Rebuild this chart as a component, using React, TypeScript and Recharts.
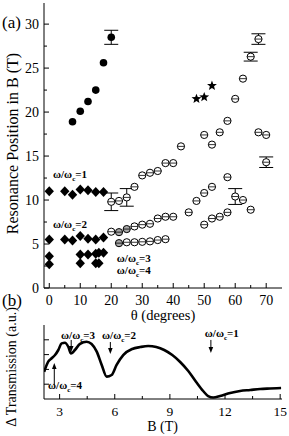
import React from 'react';
import {
  ScatterChart, Scatter, XAxis, YAxis, ErrorBar,
  LineChart, Line, ReferenceLine, ReferenceDot,
} from 'recharts';

const FONT = '"Liberation Serif", "Times New Roman", Times, serif';

// ---------- Panel (a) data: [theta (deg), B (T), error (T)] ----------
const thetaTicks = [0, 5, 10, 15, 20, 25, 30, 35, 40, 45, 50, 55, 60, 65, 70];
const resonanceTicks = [0, 2.5, 5, 7.5, 10, 12.5, 15, 17.5, 20, 22.5, 25, 27.5, 30];

const filledCircles: number[][] = [
  [7.5, 18.9], [10, 20.1], [12.5, 21.2], [15, 22.5], [17.5, 25.6], [20, 28.5, 0.8],
];
const stars: number[][] = [[47.5, 21.5], [50, 21.7], [52.5, 23.0]];
const diamonds: number[][] = [
  [0, 11.0], [5, 11.0], [7.5, 10.6], [10, 11.2], [12.5, 11.1], [15, 10.9], [17.5, 10.9],
  [0, 5.5], [5, 5.5], [7.5, 5.4], [10, 5.9], [12.5, 5.6], [15, 5.5], [17.5, 5.75],
  [0, 3.6], [10, 3.8], [12.5, 3.8], [15, 3.9], [16, 4.0], [17.5, 4.0],
  [0, 2.7], [10, 2.8], [15, 2.8], [16, 2.8],
];
const openCircles: number[][] = [
  [20, 9.8, 1.0], [22.5, 9.9], [25, 10.3, 1.0], [27.5, 11.5], [30, 12.8], [32.5, 13.1],
  [35, 13.3], [37.5, 14.2], [40, 14.2], [42.5, 16.1], [50, 17.4], [52.5, 16.3], [55, 17.7],
  [57.5, 19.0], [60, 21.5], [62.5, 23.8], [65, 26.3, 0.5], [67.5, 28.3, 0.6], [67.5, 17.7],
  [70, 17.4], [70, 14.3, 0.6],
  [45, 8.6], [47.5, 9.9], [50, 10.8], [52.5, 11.5], [57.5, 12.6], [60, 10.4, 0.9],
  [62.5, 10.0], [65, 8.9],
  [50, 7.2], [52.5, 7.9], [55, 8.1], [57.5, 8.6],
  [20, 6.4], [27.5, 7.0], [30, 7.2], [32.5, 7.3], [35, 7.9], [37.5, 8.1], [40, 8.1],
  [25, 5.2], [27.5, 5.2], [30, 5.25], [32.5, 5.3], [35, 5.45], [37.5, 5.55],
];
const greyCircles: number[][] = [[22.5, 6.35], [25, 6.7], [22.5, 5.1]];

// ---------- Panel (b) data: [B (T), transmission (a.u.)] ----------
const fieldTicks = [3, 4.5, 6, 7.5, 9, 10.5, 12, 13.5, 15];
const transTicks = [1, 2, 3, 4];
const transmission: number[][] = [
  [2.16, 1.84], [2.38, 2.52], [2.57, 2.75], [2.75, 2.97], [2.93, 3.31], [3.11, 3.76],
  [3.29, 3.8], [3.47, 3.53], [3.62, 3.07], [3.83, 3.31], [4.11, 3.72], [4.47, 3.87],
  [4.74, 3.72], [5.02, 3.2], [5.29, 2.3], [5.56, 1.51], [5.83, 1.62], [6.1, 2.3],
  [6.46, 2.97], [6.95, 3.38], [7.39, 3.51], [7.82, 3.58], [8.26, 3.51], [8.69, 3.31],
  [9.13, 2.97], [9.56, 2.5], [10.0, 1.89], [10.43, 1.15], [10.81, 0.54], [11.08, 0.2],
  [11.36, 0.1], [11.73, 0.2], [12.28, 0.41], [12.82, 0.54], [13.37, 0.61], [13.91, 0.68],
  [14.45, 0.71], [15.05, 0.74],
];

// annotations
const panelALabels: number[][] = [[1, 1.2, 12.5], [2, 1.2, 6.85], [3, 21.8, 3.0], [4, 21.8, 1.6]];
// [order n, arrow B, arrow y start, arrow y end, label B, label y]
const panelBArrows: number[][] = [
  [4, 2.71, 0.95, 2.43, 2.37, 0.68],
  [3, 3.63, 3.99, 3.18, 3.08, 4.05],
  [2, 5.76, 3.85, 3.04, 5.31, 4.05],
  [1, 11.23, 3.99, 3.1, 10.9, 4.19],
];

const rowsA = (pts: number[][], grey = false) =>
  pts.map(([t, b, e]) => ({ t, b, err: e ?? 0, grey }));
const withErr = (pts: number[][]) => rowsA(pts.filter((p) => p[2] !== undefined));
const rowsB = transmission.map(([B, v]) => ({ B, v }));

// ---------- tick factory ----------
const isMajor = (v: number, step: number) => Math.abs(v / step - Math.round(v / step)) < 1e-6;
const makeTick = (orient: string, step: number, labels: boolean, off = 17, fs = 14) => (props: any) => {
  const { x, y, payload } = props;
  const v = payload.value;
  const major = isMajor(v, step);
  const len = major ? 5 : 3;
  let line;
  let text = null;
  if (orient === 'bottom') {
    line = <line x1={x} x2={x} y1={y} y2={y - len} stroke="#000" />;
    if (labels && major) text = <text x={x} y={y + off} textAnchor="middle" fontFamily={FONT} fontSize={fs} fill="#000">{v}</text>;
  } else if (orient === 'top') {
    line = <line x1={x} x2={x} y1={y} y2={y + len} stroke="#000" />;
  } else if (orient === 'left') {
    line = <line x1={x} x2={x + len} y1={y} y2={y} stroke="#000" />;
    if (labels && major) text = <text x={x - 5} y={y} dy="0.35em" textAnchor="end" fontFamily={FONT} fontSize={fs} fill="#000">{v}</text>;
  } else {
    line = <line x1={x} x2={x - len} y1={y} y2={y} stroke="#000" />;
  }
  return <g>{line}{text}</g>;
};

// ---------- marker shapes ----------
const Nothing = () => <g />;
const FilledCircle = (p: any) => <circle cx={p.cx} cy={p.cy} r={3.8} fill="#000" />;
const OpenCircle = (p: any) => (
  <g>
    <circle cx={p.cx} cy={p.cy} r={3.6} fill={p.payload && p.payload.grey ? '#a8a8a8' : '#fff'} stroke="#000" strokeWidth={1} />
    <line x1={p.cx - 3.6} x2={p.cx + 3.6} y1={p.cy} y2={p.cy} stroke="#000" strokeWidth={0.8} />
  </g>
);
const Diamond = (p: any) => (
  <polygon points={`${p.cx},${p.cy - 5} ${p.cx + 4.7},${p.cy} ${p.cx},${p.cy + 5} ${p.cx - 4.7},${p.cy}`} fill="#000" />
);
const Star = (p: any) => {
  const pts = Array.from({ length: 10 }, (_, i) => {
    const a = -Math.PI / 2 + (i * Math.PI) / 5;
    const r = i % 2 === 0 ? 5.2 : 2.2;
    return `${p.cx + r * Math.cos(a)},${p.cy + r * Math.sin(a)}`;
  }).join(' ');
  return <polygon points={pts} fill="#000" />;
};

const OmegaText = ({ x, y, n }: any) => (
  <text x={x} y={y} fontFamily={FONT} fontSize={11} fontWeight="bold" fill="#000">
    ω/ω<tspan dy={3} fontSize={7}>c</tspan><tspan dy={-3}>={n}</tspan>
  </text>
);

const Arrow = (p: any) => {
  const { x1, y1, x2, y2 } = p;
  const dir = Math.sign(y2 - y1) || 1;
  return (
    <g>
      <line x1={x1} y1={y1} x2={x2} y2={y2 - dir * 4} stroke="#000" strokeWidth={1} />
      <polygon points={`${x2},${y2} ${x2 - 2.3},${y2 - dir * 6} ${x2 + 2.3},${y2 - dir * 6}`} fill="#000" />
    </g>
  );
};

const axisLine = { stroke: '#000', strokeWidth: 1 };
const domA: [number, number] = [-1.7, 75.1];
const domAy: [number, number] = [0, 32.4];
const domB: [number, number] = [2.15, 15.1];
const marginA = { top: 3, right: 7, bottom: 0, left: 0 };

export default function App() {
  return (
    <div style={{ position: 'absolute', left: 0, top: 0, width: 289, height: 436, background: '#fff' }}>
      {/* panel (a): axes, labels, error bars */}
      <div style={{ position: 'absolute', left: 0, top: 0 }}>
        <ScatterChart width={289} height={330} margin={marginA}>
          <XAxis dataKey="t" type="number" domain={domA} allowDataOverflow ticks={thetaTicks} interval={0}
            tickSize={0} tickMargin={0} tickLine={false} axisLine={axisLine} height={42}
            tick={makeTick('bottom', 10, true, 16.5, 14)}
            label={() => <text x={163} y={320} textAnchor="middle" fontFamily={FONT} fontSize={14.5} fill="#000">θ (degrees)</text>} />
          <XAxis xAxisId="top" orientation="top" type="number" domain={domA} allowDataOverflow ticks={thetaTicks} interval={0}
            tickSize={0} tickMargin={0} tickLine={false} axisLine={axisLine} height={0}
            tick={makeTick('top', 10, false)} />
          <YAxis dataKey="b" type="number" domain={domAy} allowDataOverflow ticks={resonanceTicks} interval={0}
            tickSize={0} tickMargin={0} tickLine={false} axisLine={axisLine} width={44}
            tick={makeTick('left', 5, true, 0, 14)}
            label={() => (
              <g>
                <text x={2} y={28} fontFamily={FONT} fontSize={17} fill="#000">(a)</text>
                <text x={12} y={143.5} transform="rotate(-90, 12, 143.5)" textAnchor="middle" dominantBaseline="central"
                  fontFamily={FONT} fontSize={16} fill="#000">Resonance Position in B (T)</text>
              </g>
            )} />
          <YAxis yAxisId="right" orientation="right" type="number" domain={domAy} allowDataOverflow ticks={resonanceTicks} interval={0}
            tickSize={0} tickMargin={0} tickLine={false} axisLine={axisLine} width={0}
            tick={makeTick('right', 5, false)} />
          <Scatter data={withErr(filledCircles)} shape={Nothing} isAnimationActive={false}>
            <ErrorBar dataKey="err" direction="y" width={7} stroke="#000" strokeWidth={1} isAnimationActive={false} />
          </Scatter>
          <Scatter data={withErr(openCircles)} shape={Nothing} isAnimationActive={false}>
            <ErrorBar dataKey="err" direction="y" width={7} stroke="#000" strokeWidth={1} isAnimationActive={false} />
          </Scatter>
          {panelALabels.map(([n, t, b]) => (
            <ReferenceDot key={`la${n}`} x={t} y={b} r={0} ifOverflow="visible"
              shape={(p: any) => <OmegaText x={p.cx} y={p.cy} n={n} />} />
          ))}
        </ScatterChart>
      </div>
      {/* panel (a): markers, layered above the error bars */}
      <div style={{ position: 'absolute', left: 0, top: 0 }}>
        <ScatterChart width={289} height={330} margin={marginA}>
          <XAxis dataKey="t" type="number" domain={domA} allowDataOverflow height={42} tick={false} tickLine={false} axisLine={false} />
          <YAxis dataKey="b" type="number" domain={domAy} allowDataOverflow width={44} tick={false} tickLine={false} axisLine={false} />
          <Scatter data={rowsA(diamonds)} shape={Diamond} isAnimationActive={false} />
          <Scatter data={rowsA(filledCircles)} shape={FilledCircle} isAnimationActive={false} />
          <Scatter data={rowsA(stars)} shape={Star} isAnimationActive={false} />
          <Scatter data={[...rowsA(openCircles), ...rowsA(greyCircles, true)]} shape={OpenCircle} isAnimationActive={false} />
        </ScatterChart>
      </div>
      {/* panel (b) */}
      <div style={{ position: 'absolute', left: 0, top: 290 }}>
        <LineChart width={289} height={146} data={rowsB} margin={{ top: 35, right: 7, bottom: 0, left: 0 }}>
          <XAxis dataKey="B" type="number" domain={domB} allowDataOverflow ticks={fieldTicks} interval={0}
            tickSize={0} tickMargin={0} tickLine={false} axisLine={axisLine} height={37}
            tick={makeTick('bottom', 3, true, 17, 13.5)}
            label={() => <text x={162.5} y={141} textAnchor="middle" fontFamily={FONT} fontSize={14} fill="#000">B (T)</text>} />
          <XAxis xAxisId="top" orientation="top" type="number" domain={domB} allowDataOverflow
            tick={false} tickLine={false} axisLine={axisLine} height={0} />
          <YAxis type="number" domain={[0, 5]} allowDataOverflow ticks={transTicks} interval={0}
            tickSize={0} tickMargin={0} tickLine={false} axisLine={axisLine} width={44}
            tick={makeTick('left', 1, false)}
            label={() => (
              <g>
                <text x={2} y={16} fontFamily={FONT} fontSize={17} fill="#000">(b)</text>
                <text x={11} y={77} transform="rotate(-90, 11, 77)" textAnchor="middle" dominantBaseline="central"
                  fontFamily={FONT} fontSize={14} fill="#000">Δ Transmission (a.u.)</text>
              </g>
            )} />
          <YAxis yAxisId="right" orientation="right" type="number" domain={[0, 5]} allowDataOverflow
            tick={false} tickLine={false} axisLine={axisLine} width={0} />
          <Line dataKey="v" type="monotone" stroke="#000" strokeWidth={2.6} dot={false} isAnimationActive={false} />
          {panelBArrows.map(([n, bx, y1, y2]) => (
            <ReferenceLine key={`ar${n}`} segment={[{ x: bx, y: y1 }, { x: bx, y: y2 }]} ifOverflow="visible"
              shape={Arrow} />
          ))}
          {panelBArrows.map(([n, , , , lx, ly]) => (
            <ReferenceDot key={`lb${n}`} x={lx} y={ly} r={0} ifOverflow="visible"
              shape={(p: any) => <OmegaText x={p.cx} y={p.cy} n={n} />} />
          ))}
        </LineChart>
      </div>
    </div>
  );
}
